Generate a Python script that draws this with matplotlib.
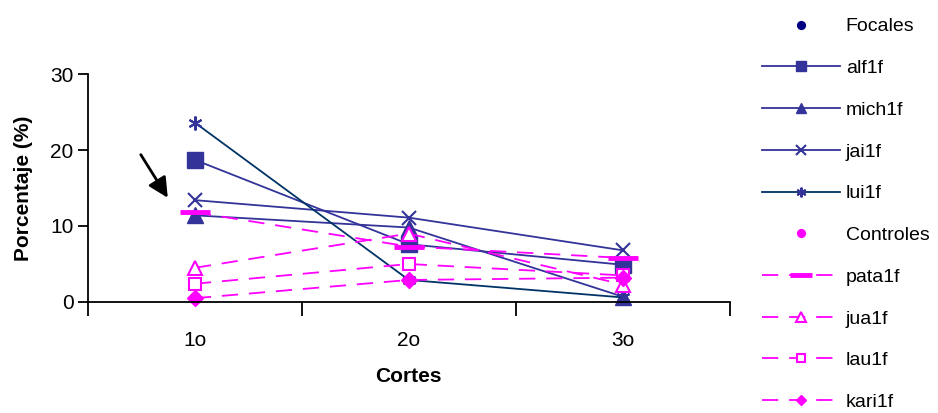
import numpy as np
import matplotlib
matplotlib.use("Agg")
import matplotlib.pyplot as plt
from matplotlib.lines import Line2D

plt.rcParams['font.family'] = ['Liberation Sans', 'DejaVu Sans']

cortes = ['1o', '2o', '3o']

# focales
alf1f = [18.7, 7.6, 4.9]
mich1f = [11.4, 9.8, 0.7]
jai1f = [13.4, 11.1, 6.8]
lui1f = [23.6, 2.9, 0.6]

# controles
pata1f = [11.8, 7.3, 5.8]
jua1f = [4.5, 9.0, 2.3]
lau1f = [2.4, 5.0, 3.5]
kari1f = [0.5, 2.9, 3.2]

navy = '#333399'
dark = '#003366'
mag = '#FF00FF'
aster = (6, 2, 0)  # asterisk: x plus a vertical bar

fig = plt.figure(figsize=(9.38, 4.13), dpi=100)
ax = fig.add_axes([0.0938, 0.2688, 0.684, 0.552])
x = np.arange(len(cortes))

h = []
h.append(Line2D([], [], ls='none', marker='o', color='#000080', ms=8))
h += ax.plot(x, alf1f, color=navy, lw=1.3, marker='s', ms=11, label='alf1f')
h += ax.plot(x, mich1f, color=navy, lw=1.3, marker='^', ms=11, label='mich1f')
h += ax.plot(x, jai1f, color=navy, lw=1.3, marker='x', ms=10, mew=1.5, label='jai1f')
h += ax.plot(x, lui1f, color=dark, lw=1.3, marker=aster, ms=10, mew=1.5,
             mec=navy, label='lui1f')
h.append(Line2D([], [], ls='none', marker='o', color=mag, ms=8))

dash = dict(color=mag, lw=1.3, dashes=(9, 6))
h += ax.plot(x, pata1f, marker='_', ms=22, mew=3.5, label='pata1f', **dash)
h += ax.plot(x, jua1f, marker='^', ms=10, mfc='white', mew=1.5, label='jua1f', **dash)
h += ax.plot(x, lau1f, marker='s', ms=8, mfc='white', mew=1.5, label='lau1f', **dash)
h += ax.plot(x, kari1f, marker='D', ms=8, label='kari1f', **dash)

labels = ['Focales', 'alf1f', 'mich1f', 'jai1f', 'lui1f',
          'Controles', 'pata1f', 'jua1f', 'lau1f', 'kari1f']

ax.set_xlim(-0.5, 2.5)
ax.set_ylim(0, 30)
ax.set_yticks([0, 10, 20, 30])
ax.set_xticks([-0.5, 0.5, 1.5, 2.5])
ax.set_xticklabels([])
ax.set_xticks(x, minor=True)
ax.set_xticklabels(cortes, minor=True)
ax.tick_params(axis='x', which='major', length=10, width=1.3, direction='out')
ax.tick_params(axis='x', which='minor', length=0, pad=21, labelsize=15)
ax.tick_params(axis='y', length=7, width=1.3, direction='out', labelsize=15)
for s in ['top', 'right']:
    ax.spines[s].set_visible(False)
for s in ['left', 'bottom']:
    ax.spines[s].set_linewidth(1.3)
for ln in ax.lines:
    ln.set_clip_on(False)

ax.set_xlabel('Cortes', fontsize=15, fontweight='bold', labelpad=12)
ax.set_ylabel('Porcentaje (%)', fontsize=15, fontweight='bold', labelpad=12)

ax.annotate('', xy=(-0.12, 13.4), xytext=(-0.26, 19.7),
            arrowprops=dict(arrowstyle='-|>', color='black', lw=2,
                            mutation_scale=30))

fig.legend(h, labels, loc='upper left', bbox_to_anchor=(0.8, 0.985),
           frameon=False, fontsize=14, handlelength=4.0, handletextpad=0.3,
           labelspacing=1.24, markerscale=0.7, borderaxespad=0.2)

fig.savefig('out.png', dpi=100)
